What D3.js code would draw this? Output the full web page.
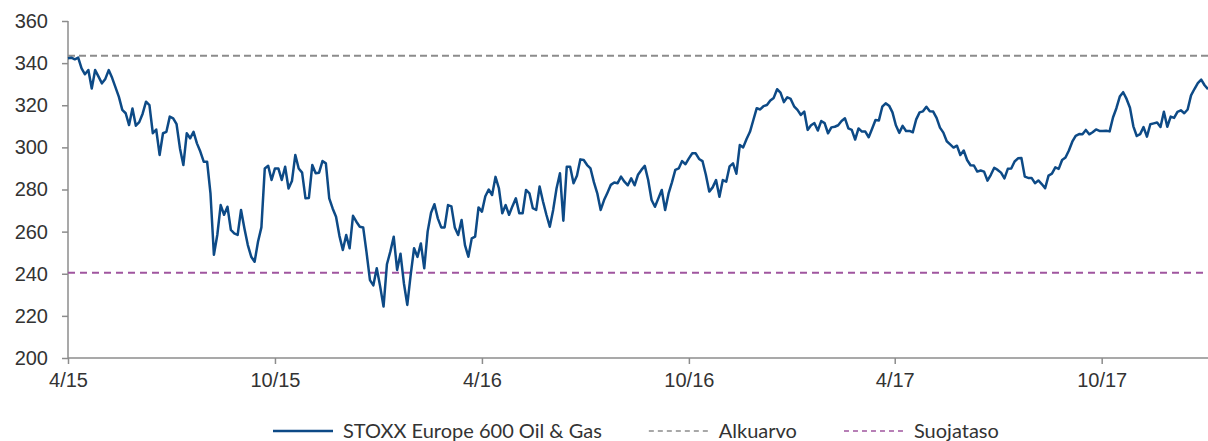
<!DOCTYPE html>
<html lang="fi">
<head>
    <meta charset="UTF-8">
    <title>STOXX Europe 600 Oil & Gas</title>
    <script src="https://cdnjs.cloudflare.com/ajax/libs/d3/7.8.5/d3.min.js" charset="utf-8"></script>
    <style>
        body { margin: 0; background: #fff; }
        svg { display: block; font-family: Lato, "Open Sans", sans-serif; }
        .axis path, .axis line { stroke: #8c8c8c; stroke-width: 1.5px; }
        .axis text { fill: #333; font-size: 20px; }
        .legend text { fill: #333; font-size: 20px; }
    </style>
</head>
<body>
<svg width="1208" height="441"></svg>
<script>
    // index level, one observation every 3 days from 1.4.2015
    var startDate = new Date(2015, 3, 1);
    var stepDays = 3;
    var values = [
        342.3, 342.6, 341.8, 342.6, 337.5, 334.7, 336.7, 328, 336.7, 333.6,
        330.4, 332.5, 336.7, 333, 328.5, 324, 317.8, 316.2, 310.6, 318.5,
        310.3, 312, 316, 321.7, 320.1, 306.7, 308.5, 296.4, 306.7, 307.4,
        314.6, 313.8, 311, 299.5, 291.6, 306.7, 304.3, 307.4, 301.9, 298,
        293.2, 293.2, 278, 249, 258.4, 272.6, 268, 271.8, 260.8, 259.2,
        258.4, 270.3, 261.5, 253.6, 248.1, 245.7, 255.2, 262, 290, 291.3,
        284.5, 290, 290, 284.5, 290.8, 280.5, 284, 296.4, 290, 288,
        275.8, 276, 291.6, 287.7, 288, 293.5, 292.4, 275.8, 271, 267.1,
        258, 251.3, 258.4, 252.1, 267.5, 264.7, 262.3, 262, 250, 237,
        234.5, 242.6, 234, 224.4, 244.5, 250.5, 257.6, 241.8, 249.5, 235.5,
        225.2, 239.5, 252.1, 248, 254.4, 242.6, 260, 269, 273, 266.3,
        262, 262, 272.6, 272, 262, 258.4, 265.5, 253.6, 248.1, 256.8,
        257.6, 271.5, 269.5, 276.8, 280, 277.4, 286, 280.6, 268.7, 272.6,
        268, 272.1, 275.8, 268.7, 268.7, 279.8, 278.2, 271.1, 270.3, 281.4,
        274.3, 268, 262.3, 270.3, 280.6, 287.7, 265.2, 290.8, 290.8, 283,
        286.5, 294.3, 294, 291.6, 290, 283.5, 278.2, 270.3, 275, 278.5,
        282.2, 283.3, 283, 286.1, 283.7, 282, 285.3, 282, 287, 289.3,
        291.2, 284.5, 275, 271.8, 275.8, 279.8, 270.3, 278, 283.4, 289.3,
        290, 293.5, 292, 294.8, 297.2, 297.2, 294.5, 293.5, 287, 279,
        281, 284.5, 276.6, 284.5, 283.7, 291, 292.4, 287.5, 301.1, 300,
        304, 307.4, 313, 318.6, 318, 319.6, 320.1, 322.3, 323.5, 327.6,
        326, 321.5, 323.8, 323, 319.5, 317.8, 315.4, 317, 308.3, 310.5,
        311.5, 308, 312.5, 311.5, 306.7, 309.5, 309.8, 310.5, 312.5, 313.8,
        309, 308.3, 303.7, 309, 307.5, 307.5, 304.8, 308.8, 313, 312.8,
        319.3, 320.9, 319.8, 316.6, 310.5, 306.9, 310.2, 307.8, 307.8, 307.2,
        313.3, 316.6, 317.1, 319.3, 317.2, 317, 314, 309.4, 307, 302.9,
        301.4, 299.9, 300.8, 296.4, 298.5, 294, 291.5, 291.4, 288.5, 289,
        288.5, 284.2, 287, 290.3, 289.3, 288, 285.3, 289.8, 290, 293.3,
        294.8, 295, 286.1, 285.5, 285.5, 283, 284.3, 282.6, 280.6, 286.6,
        287.5, 290.5, 289.8, 294, 295.2, 298.5, 302.7, 305.5, 306.3, 306.2,
        308.3, 306.2, 307.2, 308.5, 307.8, 307.8, 307.9, 307.6, 314.2, 318.6,
        324.1, 326.2, 323, 318.8, 310, 305.4, 306.3, 309.6, 305.1, 311,
        311.4, 311.8, 309.7, 316.9, 309.8, 314.6, 314, 316.9, 317.6, 316.2,
        318, 324.7, 327.7, 330.5, 332.2, 329.5, 327.6
    ];
    var alkuarvo = 343.5;   // initial level
    var suojataso = 240.45; // protection level (70 %)
    var yTicks = [200, 220, 240, 260, 280, 300, 320, 340, 360];
    var xTickDates = ["2015-04-01", "2015-10-01", "2016-04-01", "2016-10-01", "2017-04-01", "2017-10-01"];
    var seriesNames = ["STOXX Europe 600 Oil & Gas", "Alkuarvo", "Suojataso"];
    var colors = ["#0d4a86", "#8c8c8c", "#a0559f"];

    var data = values.map(function (v, i) {
        return {date: d3.timeDay.offset(startDate, i * stepDays), value: v};
    });

    var plotLeft = 68, plotRight = 1208, plotTop = 21, plotBottom = 358;
    var svg = d3.select("svg");

    var x = d3.scaleTime()
            .domain([startDate, data[data.length - 1].date])
            .range([plotLeft, plotRight]);
    var y = d3.scaleLinear()
            .domain([200, 360])
            .range([plotBottom, plotTop]);

    var parse = d3.timeParse("%Y-%m-%d");

    svg.append("g")
            .attr("class", "axis")
            .attr("transform", "translate(" + plotLeft + ",0)")
            .call(d3.axisLeft(y).tickValues(yTicks).tickSize(6).tickPadding(14).tickFormat(d3.format("d")))
            .call(function (g) { g.select(".domain").attr("d", "M0," + plotTop + "V" + plotBottom); });

    svg.append("g")
            .attr("class", "axis")
            .attr("transform", "translate(0," + plotBottom + ")")
            .call(d3.axisBottom(x).tickValues(xTickDates.map(parse)).tickSize(6).tickPadding(9)
                    .tickFormat(d3.timeFormat("%-m/%y")))
            .call(function (g) { g.select(".domain").attr("d", "M" + plotLeft + ",0H" + plotRight); });

    // reference levels
    svg.append("line")
            .attr("x1", plotLeft).attr("x2", plotRight)
            .attr("y1", y(alkuarvo)).attr("y2", y(alkuarvo))
            .attr("stroke", colors[1]).attr("stroke-width", 2)
            .attr("stroke-dasharray", "7,4");
    svg.append("line")
            .attr("x1", plotLeft).attr("x2", plotRight)
            .attr("y1", y(suojataso)).attr("y2", y(suojataso))
            .attr("stroke", colors[2]).attr("stroke-width", 2)
            .attr("stroke-dasharray", "7,5");

    var line = d3.line()
            .x(function (d) { return x(d.date); })
            .y(function (d) { return y(d.value); });

    svg.append("path")
            .datum(data)
            .attr("fill", "none")
            .attr("stroke", colors[0])
            .attr("stroke-width", 2.5)
            .attr("stroke-linejoin", "round")
            .attr("d", line);

    // legend
    var legend = svg.append("g").attr("class", "legend");
    var lx = 273;
    seriesNames.forEach(function (name, i) {
        var g = legend.append("g").attr("transform", "translate(" + lx + ",431)");
        g.append("line")
                .attr("x1", 0).attr("x2", 60)
                .attr("stroke", colors[i])
                .attr("stroke-width", i === 0 ? 2.5 : 1.5)
                .attr("stroke-dasharray", i === 0 ? null : "5,4");
        var t = g.append("text")
                .attr("x", 70).attr("dy", "0.35em")
                .text(name);
        lx += 70 + t.node().getComputedTextLength() + 47;
    });
</script>
</body>
</html>
